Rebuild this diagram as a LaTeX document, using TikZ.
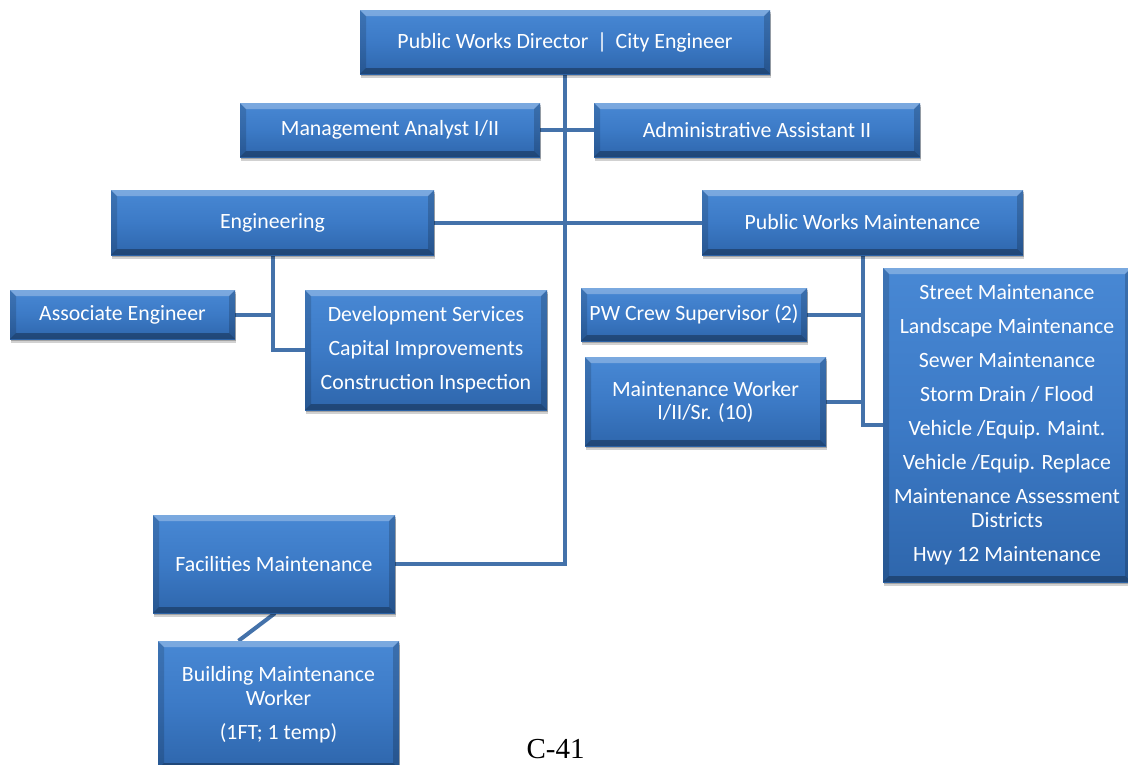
\documentclass[tikz,border=0pt]{standalone}
\usepackage{fontspec}
\setmainfont{Carlito}
\newfontfamily\footerfont{Liberation Serif}
\usetikzlibrary{shadows,backgrounds}

\definecolor{boxtop}{RGB}{72,136,212}
\definecolor{boxmid}{RGB}{60,122,198}
\definecolor{boxbot}{RGB}{46,102,172}
\definecolor{linkblue}{RGB}{68,114,170}

\tikzset{
  orgbox/.style={
    draw=none, rectangle, inner sep=0pt, align=center,
    top color=boxtop, bottom color=boxbot, middle color=boxmid,
    text=white, font=\fontsize{21.8}{24}\selectfont,
    drop shadow={shadow xshift=1pt, shadow yshift=-4pt, opacity=0.18, fill=black},
    drop shadow={shadow xshift=0.5pt, shadow yshift=-2pt, opacity=0.22, fill=black},
    path picture={
      % upper bevel (light)
      \fill[white, opacity=0.28]
        (path picture bounding box.north west) -- (path picture bounding box.north east)
        -- ([shift={(-6pt,-6pt)}]path picture bounding box.north east)
        -- ([shift={(6pt,-6pt)}]path picture bounding box.north west) -- cycle;
      % lower bevel (dark)
      \fill[black, opacity=0.30]
        (path picture bounding box.south west) -- (path picture bounding box.south east)
        -- ([shift={(-6pt,6pt)}]path picture bounding box.south east)
        -- ([shift={(6pt,6pt)}]path picture bounding box.south west) -- cycle;
      % side bevels
      \fill[black, opacity=0.15]
        (path picture bounding box.north west) -- ([shift={(6pt,-6pt)}]path picture bounding box.north west)
        -- ([shift={(6pt,6pt)}]path picture bounding box.south west)
        -- (path picture bounding box.south west) -- cycle;
      \fill[black, opacity=0.18]
        (path picture bounding box.north east) -- ([shift={(-6pt,-6pt)}]path picture bounding box.north east)
        -- ([shift={(-6pt,6pt)}]path picture bounding box.south east)
        -- (path picture bounding box.south east) -- cycle;
    }
  },
  link/.style={draw=linkblue, line width=4pt}
}

\begin{document}
\begin{tikzpicture}[x=1pt, y=-1pt]
\useasboundingbox (0,0) rectangle (1128,764);

% top level
\node[orgbox, minimum width=410pt, minimum height=64pt] (dir) at (565,42)
  {Public Works Director \,|\, City Engineer};
\node[orgbox, minimum width=300pt, minimum height=54pt] (ma) at (390,130)
  {Management Analyst I/II};
\node[orgbox, minimum width=326pt, minimum height=54pt] (aa) at (757,130)
  {Administrative Assistant II};

% divisions
\node[orgbox, minimum width=323pt, minimum height=65pt] (eng) at (272.5,222.5)
  {Engineering};
\node[orgbox, minimum width=321pt, minimum height=65pt] (pwm) at (862.5,222.5)
  {Public Works Maintenance};

% engineering staff
\node[orgbox, minimum width=225pt, minimum height=49pt] (ae) at (122.5,314.5)
  {Associate Engineer};
\node[orgbox, minimum width=242pt, minimum height=120pt] (dev) at (426,350)
  {Development Services\\[10pt]Capital Improvements\\[10pt]Construction Inspection};

% maintenance staff
\node[orgbox, minimum width=226pt, minimum height=53pt] (crew) at (694,314.5)
  {PW Crew Supervisor (2)};
\node[orgbox, minimum width=241pt, minimum height=89pt] (mw) at (705.5,401.5)
  {Maintenance Worker\\[-1pt]I/II/Sr. (10)};
\node[orgbox, minimum width=248pt, minimum height=314pt] (list) at (1007,425)
  {Street Maintenance\\[10pt]Landscape Maintenance\\[10pt]Sewer Maintenance\\[10pt]Storm Drain / Flood\\[10pt]Vehicle /Equip. Maint.\\[10pt]Vehicle /Equip. Replace\\[10pt]Maintenance Assessment\\Districts\\[10pt]Hwy 12 Maintenance};

% facilities
\node[orgbox, minimum width=242pt, minimum height=98pt] (fac) at (274,564)
  {Facilities Maintenance};
\node[orgbox, minimum width=241pt, minimum height=128pt] (bld) at (278.5,705)
  {Building Maintenance\\Worker\\[10pt](1FT; 1 temp)};

% page number
\node[font=\footerfont\fontsize{29}{32}\selectfont, anchor=base, inner sep=0pt] (pg) at (555.5,758) {C-41};

% connectors
\begin{pgfonlayer}{background}
  \draw[link] (dir.south) -- (dir.south |- fac.east) -- (fac.east);
  \draw[link] (ma.east) -- (aa.west);
  \draw[link] (eng.east) -- (pwm.west);
  \draw[link] (eng.south) -- (eng.south |- dev.west) -- (dev.west);
  \draw[link] (ae.east) -- (ae.east -| eng.south);
  \draw[link] (pwm.south) -- (pwm.south |- list.west) -- (list.west);
  \draw[link] (crew.east) -- (crew.east -| pwm.south);
  \draw[link] (mw.east) -- (mw.east -| pwm.south);
  \draw[link] ([xshift=1pt]fac.south) -- ([xshift=-40pt]bld.north);
\end{pgfonlayer}
\end{tikzpicture}
\end{document}
